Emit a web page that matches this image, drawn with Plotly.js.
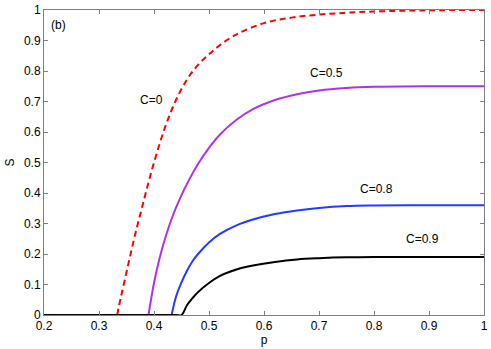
<!DOCTYPE html>
<html>
<head>
<meta charset="utf-8">
<script src="https://cdn.plot.ly/plotly-3.0.1.min.js"></script>
<style>
  html, body { margin: 0; padding: 0; background: #fff; }
  #chart { width: 491px; height: 349px; }
</style>
</head>
<body>
<div id="chart"></div>
<script>
// C = 0 (dashed red)
var pC0 = [0.333, 0.34, 0.35, 0.36, 0.37, 0.38, 0.39, 0.40, 0.42, 0.44, 0.46, 0.48, 0.50, 0.52, 0.55, 0.60, 0.65, 0.70, 0.75, 0.80, 0.90, 1.0];
var sC0 = [0, 0.06, 0.14, 0.22, 0.295, 0.365, 0.435, 0.50, 0.615, 0.705, 0.772, 0.82, 0.855, 0.885, 0.92, 0.957, 0.975, 0.985, 0.991, 0.995, 0.999, 1.0];

// C = 0.5
var pC05 = [0.39, 0.40, 0.41, 0.42, 0.43, 0.44, 0.45, 0.46, 0.48, 0.50, 0.52, 0.55, 0.58, 0.62, 0.66, 0.70, 0.75, 0.80, 0.90, 1.0];
var sC05 = [0, 0.105, 0.185, 0.25, 0.305, 0.352, 0.393, 0.43, 0.495, 0.548, 0.592, 0.64, 0.675, 0.705, 0.724, 0.736, 0.744, 0.748, 0.75, 0.75];

// C = 0.8
var pC08 = [0.432, 0.44, 0.45, 0.46, 0.47, 0.48, 0.50, 0.52, 0.55, 0.58, 0.62, 0.66, 0.70, 0.75, 0.80, 0.90, 1.0];
var sC08 = [0, 0.06, 0.107, 0.145, 0.176, 0.20, 0.238, 0.266, 0.294, 0.313, 0.331, 0.343, 0.351, 0.357, 0.359, 0.36, 0.36];

// C = 0.9
var pC09 = [0.2, 0.3, 0.4, 0.44, 0.45, 0.46, 0.47, 0.48, 0.50, 0.52, 0.55, 0.58, 0.62, 0.66, 0.70, 0.75, 0.80, 0.90, 1.0];
var sC09 = [0, 0, 0, 0, 0, 0.032, 0.055, 0.075, 0.105, 0.128, 0.149, 0.162, 0.174, 0.182, 0.186, 0.189, 0.19, 0.19, 0.19];

var curveLabels = ['C=0', 'C=0.5', 'C=0.8', 'C=0.9'];
var labelP = [0.396, 0.713, 0.804, 0.889];
var labelS = [0.705, 0.795, 0.413, 0.249];

var fontFam = 'Liberation Sans, Arial, sans-serif';

var traces = [
  { x: pC0, y: sC0, mode: 'lines', line: { color: '#ff0000', width: 2, dash: '6px,4px', shape: 'spline', smoothing: 1 } },
  { x: pC05, y: sC05, mode: 'lines', line: { color: '#b030f0', width: 2, shape: 'spline', smoothing: 1 } },
  { x: pC08, y: sC08, mode: 'lines', line: { color: '#1f3cff', width: 2, shape: 'spline', smoothing: 1 } },
  { x: pC09, y: sC09, mode: 'lines', line: { color: '#000000', width: 2, shape: 'spline', smoothing: 1 } }
];

var annotations = [];
for (var i = 0; i < curveLabels.length; i++) {
  annotations.push({
    x: labelP[i], y: labelS[i], text: curveLabels[i], showarrow: false,
    font: { family: fontFam, size: 12, color: '#000' }
  });
}
annotations.push({
  x: 0.226, y: 0.951, text: '(b)', showarrow: false,
  font: { family: fontFam, size: 12, color: '#000' }
});

var layout = {
  width: 491, height: 349,
  margin: { l: 44, r: 7, t: 10, b: 34 },
  showlegend: false,
  paper_bgcolor: '#fff',
  plot_bgcolor: '#fff',
  font: { family: fontFam, size: 12, color: '#000' },
  xaxis: {
    range: [0.2, 1], dtick: 0.1, tick0: 0.2,
    showgrid: false, zeroline: false,
    showline: true, linecolor: '#7f7f7f', linewidth: 1, mirror: 'ticks',
    ticks: 'inside', ticklen: 4, tickcolor: '#7f7f7f',
    title: { text: 'p', standoff: 2, font: { size: 12 } }
  },
  yaxis: {
    range: [0, 1], dtick: 0.1,
    showgrid: false, zeroline: false,
    showline: true, linecolor: '#7f7f7f', linewidth: 1, mirror: 'ticks',
    ticks: 'inside', ticklen: 4, tickcolor: '#7f7f7f',
    title: { text: 'S', standoff: 6, font: { size: 12 } }
  },
  annotations: annotations
};

Plotly.newPlot('chart', traces, layout, { displayModeBar: false, staticPlot: true });
</script>
</body>
</html>
